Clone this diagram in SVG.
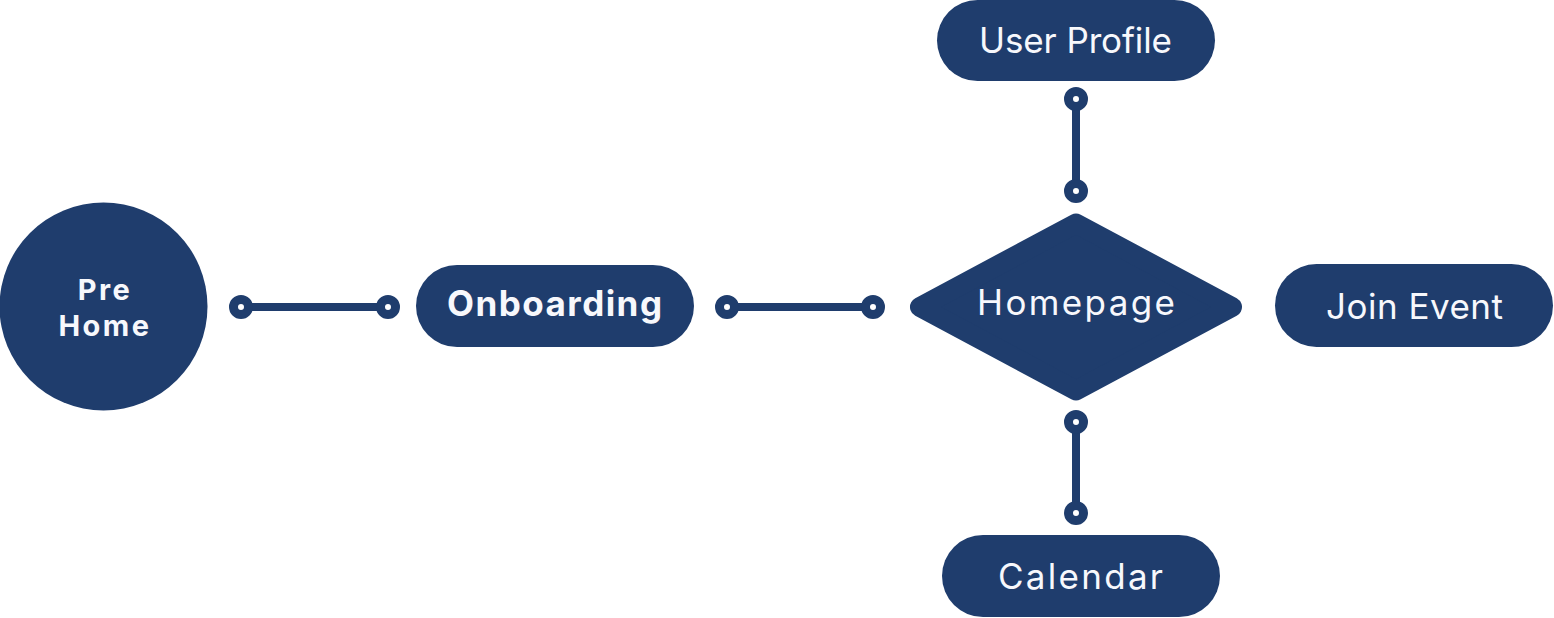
<svg xmlns="http://www.w3.org/2000/svg" width="1554" height="618" viewBox="0 0 1554 618">
  <style>
    .shape { fill: #1F3D6D; }
    .lbl { fill: #F7F8FC; font-family: Inter, "Open Sans", "Liberation Sans", sans-serif; font-size: 35px; text-anchor: middle; }
    .bold { font-weight: 700; }
    .small { font-size: 29px; letter-spacing: 2.5px; }
    .line { stroke: #1F3D6D; stroke-width: 8; fill: none; }
    .dot { fill: #FFFFFF; stroke: #1F3D6D; stroke-width: 9; }
  </style>
  <rect width="1554" height="618" fill="#FFFFFF"/>
  <g id="connectors">
    <line class="line" x1="241" y1="307" x2="388" y2="307"/>
    <circle class="dot" cx="241" cy="307" r="7.5"/>
    <circle class="dot" cx="388" cy="307" r="7.5"/>
    <line class="line" x1="727" y1="307" x2="873" y2="307"/>
    <circle class="dot" cx="727" cy="307" r="7.5"/>
    <circle class="dot" cx="873" cy="307" r="7.5"/>
    <line class="line" x1="1076" y1="99" x2="1076" y2="191"/>
    <circle class="dot" cx="1076" cy="99" r="7.5"/>
    <circle class="dot" cx="1076" cy="191" r="7.5"/>
    <line class="line" x1="1076" y1="422" x2="1076" y2="513"/>
    <circle class="dot" cx="1076" cy="422" r="7.5"/>
    <circle class="dot" cx="1076" cy="513" r="7.5"/>
  </g>
  <g id="pre-home">
    <circle class="shape" cx="103.500" cy="306.500" r="104"/>
    <text class="lbl bold small" x="105" y="300">Pre</text>
    <text class="lbl bold small" x="105" y="336">Home</text>
  </g>
  <g id="onboarding">
    <rect class="shape" x="416" y="265" width="278" height="82" rx="41"/>
    <text class="lbl bold" x="554.500" y="316" textLength="215">Onboarding</text>
  </g>
  <g id="homepage">
    <polygon class="shape" points="920,307 1076,223.500 1232,307 1076,390.500" stroke="#1F3D6D" stroke-width="20" stroke-linejoin="round"/>
    <text class="lbl" x="1076" y="315" textLength="198">Homepage</text>
  </g>
  <g id="user-profile">
    <rect class="shape" x="937" y="0" width="278" height="81" rx="40.500"/>
    <text class="lbl" x="1075.500" y="53" textLength="193">User Profile</text>
  </g>
  <g id="join-event">
    <rect class="shape" x="1275" y="264" width="278" height="83" rx="41.500"/>
    <text class="lbl" x="1414.500" y="319" textLength="177">Join Event</text>
  </g>
  <g id="calendar">
    <rect class="shape" x="942" y="535" width="278" height="82" rx="41"/>
    <text class="lbl" x="1080.500" y="589" textLength="165">Calendar</text>
  </g>
</svg>
